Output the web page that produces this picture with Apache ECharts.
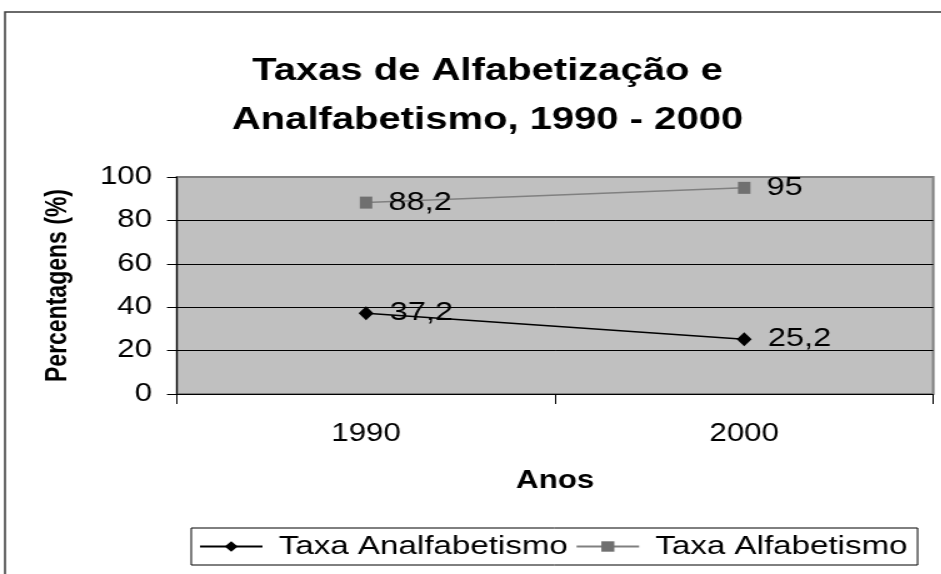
<!DOCTYPE html>
<html>
<head>
<meta charset="utf-8">
<script src="https://cdn.jsdelivr.net/npm/echarts@6/dist/echarts.min.js"></script>
<style>
  html, body { margin: 0; padding: 0; background: #fff; overflow: hidden; }
  /* the original picture is stretched sideways, so the chart is too */
  #main { width: 753px; height: 574px; transform: scaleX(1.25); transform-origin: 0 0; }
</style>
</head>
<body>
<div id="main"></div>
<script>
var anos = ['1990', '2000'];
var taxaAnalfabetismo = [37.2, 25.2];
var taxaAlfabetismo = [88.2, 95];
var yTicks = [0, 20, 40, 60, 80, 100];

var fonte = 'Arial, "Liberation Sans", sans-serif';

function virgula(p) {
  return String(p.value).replace('.', ',');
}

var chart = echarts.init(document.getElementById('main'));

chart.setOption({
  animation: false,
  backgroundColor: '#fff',
  graphic: [{
    type: 'rect',
    shape: { x: 4, y: 12, width: 800, height: 620 },
    style: { fill: 'none', stroke: '#3a3a3a', lineWidth: 1.5 },
    silent: true
  }],
  title: {
    text: 'Taxas de Alfabetização e\nAnalfabetismo, 1990 - 2000',
    left: 385,
    top: 42,
    textAlign: 'center',
    textStyle: { fontFamily: fonte, fontSize: 32, fontWeight: 'bold', color: '#000', lineHeight: 49 }
  },
  legend: {
    data: ['Taxa Analfabetismo', 'Taxa Alfabetismo'],
    left: 153,
    top: 528,
    orient: 'horizontal',
    borderColor: '#000',
    borderWidth: 1,
    padding: [5, 8, 5, 6],
    itemWidth: 50,
    itemHeight: 13,
    itemGap: 6,
    textStyle: { fontFamily: fonte, fontSize: 26.5, color: '#000', padding: [0, 0, 0, 8] }
  },
  grid: {
    left: 141.6,
    right: 6.4,
    top: 177,
    bottom: 180,
    show: true,
    backgroundColor: '#c0c0c0',
    borderColor: '#808080',
    borderWidth: 2
  },
  xAxis: {
    type: 'category',
    data: anos,
    boundaryGap: true,
    name: 'Anos',
    nameLocation: 'middle',
    nameGap: 75,
    nameTextStyle: { fontFamily: fonte, fontSize: 25, fontWeight: 'bold', color: '#000' },
    axisLine: { lineStyle: { color: '#000', width: 1 } },
    axisTick: { show: true, length: 10, lineStyle: { color: '#000' } },
    axisLabel: { fontFamily: fonte, fontSize: 25, color: '#000', margin: 28 }
  },
  yAxis: {
    type: 'value',
    min: yTicks[0],
    max: yTicks[yTicks.length - 1],
    interval: 20,
    name: 'Percentagens (%)',
    nameLocation: 'middle',
    nameRotate: 90,
    nameGap: 83,
    nameTextStyle: { fontFamily: fonte, fontSize: 23, fontWeight: 'bold', color: '#000' },
    axisLine: { show: true, lineStyle: { color: '#000', width: 1 } },
    axisTick: { show: true, length: 8, lineStyle: { color: '#000' } },
    axisLabel: { fontFamily: fonte, fontSize: 25, color: '#000', margin: 20 },
    splitLine: { show: true, lineStyle: { color: ['#000', '#000', '#000', '#000', '#000', '#808080'], width: 1 } }
  },
  series: [
    {
      name: 'Taxa Analfabetismo',
      type: 'line',
      data: taxaAnalfabetismo,
      symbol: 'diamond',
      symbolSize: [12, 14],
      color: '#000',
      lineStyle: { color: '#000', width: 1.5 },
      itemStyle: { color: '#000' },
      label: { show: true, position: 'right', distance: 13, formatter: virgula,
               fontFamily: fonte, fontSize: 26, color: '#000' }
    },
    {
      name: 'Taxa Alfabetismo',
      type: 'line',
      data: taxaAlfabetismo,
      symbol: 'rect',
      symbolSize: [10, 12],
      color: '#808080',
      lineStyle: { color: '#808080', width: 1.5 },
      itemStyle: { color: '#707070' },
      label: { show: true, position: 'right', distance: 13, formatter: virgula,
               fontFamily: fonte, fontSize: 26, color: '#000' }
    }
  ]
});
</script>
</body>
</html>
